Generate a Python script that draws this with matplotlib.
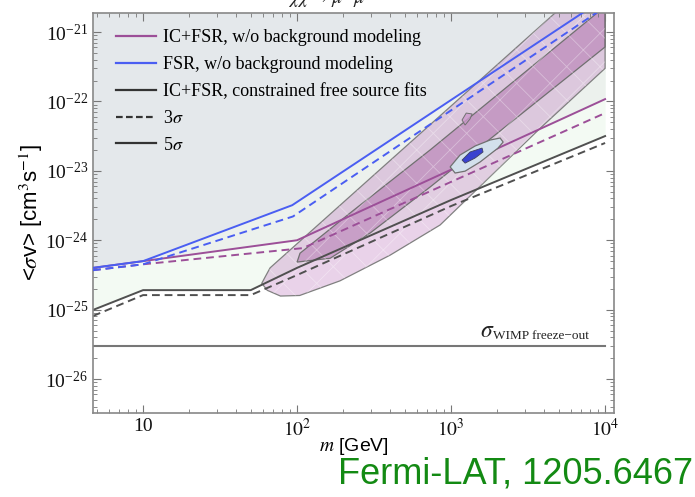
import matplotlib.pyplot as plt
from matplotlib.lines import Line2D
from matplotlib.ticker import LogLocator, NullFormatter

plt.rcParams['font.family'] = ['Liberation Serif', 'DejaVu Serif']
plt.rcParams['mathtext.fontset'] = 'stix'
plt.rcParams['hatch.linewidth'] = 0.6

# limit curves, mass in GeV, <sigma v> in cm^3/s
blue_m = [4.73, 10, 93, 10000]
blue_sv = [4.0e-25, 5.0e-25, 3.2e-24, 3.1e-21]
blue_dash_m = [4.73, 10, 94, 10000]
blue_dash_sv = [3.7e-25, 4.5e-25, 2.2e-24, 2.3e-21]

purple_m = [4.73, 10, 100, 10000]
purple_sv = [4.0e-25, 5.0e-25, 1.0e-24, 1.08e-22]
purple_dash_m = [4.73, 10, 109, 10000]
purple_dash_sv = [3.7e-25, 4.5e-25, 7.7e-25, 6.8e-23]

black_m = [4.73, 10, 50, 100, 1000, 10000]
black_sv = [9.9e-26, 1.91e-25, 1.91e-25, 4.0e-25, 3.8e-24, 3.17e-23]
black_dash_m = [4.73, 10, 50, 100, 1000, 10000]
black_dash_sv = [8.1e-26, 1.62e-25, 1.62e-25, 3.15e-25, 3.11e-24, 2.52e-23]

freeze_m = [4.73, 10000]
freeze_sv = [3.0e-26, 3.0e-26]

# best-fit regions (outline: upper edge then lower edge)
outer_m = [59, 62, 66.8, 4730, 10000, 10000, 3784, 849, 402, 190, 104, 78, 64]
outer_sv = [2.4e-25, 2.95e-25, 4.0e-25, 1.88e-21, 4.5e-21,
            3.0e-22, 4.1e-23, 1.66e-24, 6.1e-25, 2.6e-25, 1.6e-25, 1.57e-25, 1.9e-25]
inner_m = [100, 104.5, 221, 731, 8870, 10000, 10000, 731, 298, 164]
inner_sv = [4.85e-25, 6.5e-25, 2.47e-24, 2.0e-23, 1.88e-21, 2.3e-21,
            6.1e-22, 5.85e-24, 1.27e-24, 5.5e-25]

island_m = [986, 1143, 1432, 1792, 2081, 2178, 2018, 1542, 1233, 1062]
island_sv = [1.14e-23, 1.69e-23, 2.28e-23, 2.78e-23, 2.97e-23,
             2.60e-23, 2.13e-23, 1.34e-23, 9.9e-24, 9.3e-24]
core_m = [1178, 1328, 1589, 1613, 1432, 1233]
core_sv = [1.43e-23, 1.87e-23, 2.13e-23, 1.87e-23, 1.53e-23, 1.29e-23]
blob_m = [1178, 1254, 1370, 1328, 1233]
blob_sv = [5.4e-23, 6.8e-23, 6.6e-23, 5.6e-23, 4.57e-23]

x_ticks = [10, 100, 1000, 10000]
x_labels = ['10', r'$10^2$', r'$10^3$', r'$10^4$']

fig = plt.figure(figsize=(6.95, 4.97), dpi=100)
ax = fig.add_axes([0.1338, 0.169, 0.7497, 0.8048])
ax.set_xscale('log')
ax.set_yscale('log')

top = 1e-19
# excluded regions
ax.fill_between(black_m, black_sv, top, color='#f3faf3', lw=0, zorder=0)
ax.fill_between(purple_m, purple_sv, top, color='#ecf1ed', lw=0, zorder=0)
ax.fill_between(blue_m, blue_sv, top, color='#e4e8eb', lw=0, zorder=0)

# fit regions
ax.fill(outer_m, outer_sv, facecolor=(0.72, 0.42, 0.72, 0.30),
        edgecolor='#808080', lw=0.9, zorder=1)
ax.fill(inner_m, inner_sv, facecolor=(0.62, 0.30, 0.60, 0.36),
        edgecolor='#707070', lw=0.9, zorder=1)
ax.fill(outer_m, outer_sv, facecolor='none', edgecolor=(1, 1, 1, 0.35),
        hatch='x', lw=0, zorder=1)
ax.fill(blob_m, blob_sv, facecolor=(0.8, 0.6, 0.8, 0.8),
        edgecolor='#707070', lw=0.7, zorder=1)

# limits
ax.plot(freeze_m, freeze_sv, color='#777777', lw=1.5, zorder=2)
ax.plot(black_m, black_sv, color='#505050', lw=1.4, zorder=2)
ax.plot(black_dash_m, black_dash_sv, color='#505050', lw=1.4, ls=(0, (4, 2.5)), zorder=2)
ax.plot(purple_m, purple_sv, color='#9c4f98', lw=1.4, zorder=2)
ax.plot(purple_dash_m, purple_dash_sv, color='#9c4f98', lw=1.4, ls=(0, (4, 2.5)), zorder=2)
ax.plot(blue_m, blue_sv, color='#4a5ef2', lw=1.4, zorder=3)
ax.plot(blue_dash_m, blue_dash_sv, color='#4a5ef2', lw=1.4, ls=(0, (4, 2.5)), zorder=3)

ax.fill(island_m, island_sv, facecolor='#d3e0ec', edgecolor='#707070', lw=0.9, zorder=4)
ax.fill(core_m, core_sv, facecolor='#3a42d0', edgecolor='#404060', lw=0.6, zorder=4)

ax.text(0.742, 0.19, r'$\sigma$', transform=ax.transAxes, fontsize=17, color='#222222')
ax.text(0.768, 0.185, 'WIMP freeze\u2212out', transform=ax.transAxes, fontsize=9.5,
        color='#222222')

ax.set_xlim(4.73, 11430)
ax.set_ylim(3.24e-27, 1.88e-21)
ax.set_xticks(x_ticks)
ax.set_xticklabels(x_labels)
ax.xaxis.set_minor_locator(LogLocator(base=10, subs=range(2, 10)))
ax.xaxis.set_minor_formatter(NullFormatter())
ax.yaxis.set_minor_locator(LogLocator(base=10, subs=range(2, 10), numticks=20))
ax.yaxis.set_minor_formatter(NullFormatter())
ax.tick_params(which='both', direction='in', top=True, right=True, color='#777777',
               labelsize=14, labelcolor='#111111')
ax.tick_params(which='major', length=6)
ax.tick_params(which='minor', length=3)
for s in ax.spines.values():
    s.set_color('#888888')
    s.set_linewidth(1.2)

ax.set_ylabel(r'<$\sigma$v> [cm$^3$s$^{-1}$]', family=['Liberation Sans'], fontsize=16,
              labelpad=0)
ax.set_xlabel(r'$m$ [GeV]', family=['Liberation Sans'], fontsize=14, labelpad=-3)

handles = [
    Line2D([], [], color='#9c4f98', lw=1.6),
    Line2D([], [], color='#4a5ef2', lw=1.6),
    Line2D([], [], color='#333333', lw=1.6),
    Line2D([], [], color='#333333', lw=1.6, ls=(0, (3, 1.5))),
    Line2D([], [], color='#333333', lw=1.6),
]
labels = ['IC+FSR, w/o background modeling', 'FSR, w/o background modeling',
          'IC+FSR, constrained free source fits', r'3$\sigma$', r'5$\sigma$']
ax.legend(handles, labels, loc='upper left', bbox_to_anchor=(0.03, 0.978),
          frameon=False, fontsize=13, handlelength=2.25, handletextpad=0.35,
          labelspacing=0.55, borderaxespad=0)

# partly hidden title of the slide
fig.text(0.415, 1.003, r'$\chi\chi\rightarrow\mu^{+}\mu^{-}$', fontsize=14,
         ha='left', va='center', color='#222222')

fig.text(0.998, 0.012, 'Fermi-LAT, 1205.6467', color='#138a13', fontsize=26,
         family=['Liberation Sans'], ha='right', va='bottom')

fig.savefig('out.png', dpi=100)
